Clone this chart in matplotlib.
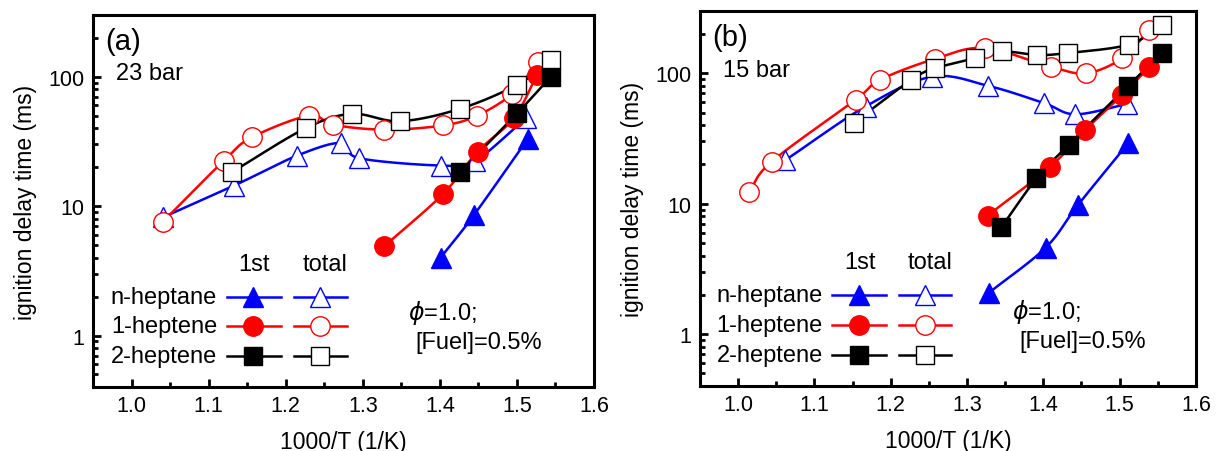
import numpy as np
import matplotlib
matplotlib.use("Agg")
import matplotlib.pyplot as plt
from matplotlib.ticker import LogLocator, FixedLocator, NullFormatter, FuncFormatter, MultipleLocator

plt.rcParams['font.family'] = ['Liberation Sans', 'DejaVu Sans']

# ---- 23 bar ----
a_nhep_1st_x = [1.401, 1.444, 1.514]
a_nhep_1st_y = [4.0, 8.5, 33.0]
a_nhep_tot_x = [1.041, 1.133, 1.215, 1.272, 1.295, 1.401, 1.446, 1.512]
a_nhep_tot_y = [8.2, 14.4, 24.6, 30.8, 23.5, 20.6, 22.5, 48.0]
a_1hep_1st_x = [1.328, 1.404, 1.449, 1.496, 1.526]
a_1hep_1st_y = [4.9, 12.4, 26.4, 48.0, 103.0]
a_1hep_tot_x = [1.041, 1.120, 1.156, 1.230, 1.262, 1.328, 1.404, 1.448, 1.494, 1.527]
a_1hep_tot_y = [7.6, 22.5, 34.0, 50.0, 42.5, 39.0, 42.0, 50.0, 74.0, 131.0]
a_2hep_1st_x = [1.426, 1.500, 1.544]
a_2hep_1st_y = [18.3, 52.0, 100.0]
a_2hep_tot_x = [1.130, 1.226, 1.286, 1.348, 1.426, 1.500, 1.544]
a_2hep_tot_y = [18.3, 40.0, 51.6, 45.3, 56.5, 86.5, 134.0]

# ---- 15 bar ----
b_nhep_1st_x = [1.329, 1.403, 1.445, 1.511]
b_nhep_1st_y = [2.08, 4.6, 9.7, 29.0]
b_nhep_tot_x = [1.062, 1.167, 1.254, 1.328, 1.401, 1.442, 1.510]
b_nhep_tot_y = [21.6, 55.6, 94.0, 80.0, 59.0, 48.5, 58.0]
b_1hep_1st_x = [1.327, 1.409, 1.455, 1.503, 1.539]
b_1hep_1st_y = [8.1, 19.2, 36.8, 68.0, 112.0]
b_1hep_tot_x = [1.014, 1.044, 1.154, 1.186, 1.258, 1.323, 1.410, 1.456, 1.503, 1.539]
b_1hep_tot_y = [12.2, 21.0, 62.7, 89.0, 129.0, 156.0, 112.0, 100.0, 130.0, 216.0]
b_2hep_1st_x = [1.345, 1.391, 1.433, 1.511, 1.556]
b_2hep_1st_y = [6.6, 15.6, 28.2, 80.0, 143.0]
b_2hep_tot_x = [1.152, 1.227, 1.258, 1.310, 1.346, 1.392, 1.432, 1.512, 1.556]
b_2hep_tot_y = [41.9, 89.0, 109.0, 130.0, 147.0, 138.0, 143.0, 166.0, 236.0]

fuels = ['n-heptane', '1-heptene', '2-heptene']
colors = ['#0000ff', '#ff0000', '#000000']
markers = ['^', 'o', 's']
msize = {'^': 15, 'o': 14, 's': 12.5}


def smooth(x, y, n=20):
    # catmull-rom through the points, done in log(y)
    x = np.asarray(x, float)
    ly = np.log10(np.asarray(y, float))
    if len(x) < 3:
        return x, 10 ** ly
    px = np.concatenate([[2 * x[0] - x[1]], x, [2 * x[-1] - x[-2]]])
    py = np.concatenate([[2 * ly[0] - ly[1]], ly, [2 * ly[-1] - ly[-2]]])
    xs, ys = [], []
    t = np.linspace(0, 1, n)
    for i in range(1, len(px) - 2):
        p0, p1, p2, p3 = px[i - 1], px[i], px[i + 1], px[i + 2]
        q0, q1, q2, q3 = py[i - 1], py[i], py[i + 1], py[i + 2]
        xs.append(0.5 * (2 * p1 + (-p0 + p2) * t + (2 * p0 - 5 * p1 + 4 * p2 - p3) * t ** 2
                         + (-p0 + 3 * p1 - 3 * p2 + p3) * t ** 3))
        ys.append(0.5 * (2 * q1 + (-q0 + q2) * t + (2 * q0 - 5 * q1 + 4 * q2 - q3) * t ** 2
                         + (-q0 + 3 * q1 - 3 * q2 + q3) * t ** 3))
    return np.concatenate(xs), 10 ** np.concatenate(ys)


def series(ax, x, y, c, m, filled):
    sx, sy = smooth(x, y)
    ax.plot(sx, sy, color=c, lw=1.8, zorder=2)
    ax.plot(x, y, ls='none', marker=m, ms=msize[m],
            mfc=c if filled else 'white', mec=c, mew=1.0, zorder=3)


def panel(ax, data, tag, pres):
    for (x1, y1, x2, y2), c, m in zip(data, colors, markers):
        series(ax, x2, y2, c, m, False)
        series(ax, x1, y1, c, m, True)

    ax.set_yscale('log')
    ax.set_xlim(0.95, 1.6)
    ax.set_ylim(0.4, 300)
    ax.xaxis.set_major_locator(MultipleLocator(0.1))
    ax.xaxis.set_minor_locator(MultipleLocator(0.05))
    ax.xaxis.set_major_formatter(FuncFormatter(lambda v, p: f'{v:.1f}'))
    ax.yaxis.set_major_locator(FixedLocator([1, 10, 100]))
    ax.yaxis.set_major_formatter(FuncFormatter(lambda v, p: f'{v:g}'))
    ax.yaxis.set_minor_locator(LogLocator(base=10, subs=np.arange(2, 10)))
    ax.yaxis.set_minor_formatter(NullFormatter())
    ax.tick_params(which='both', direction='in', top=False, right=False, width=2)
    ax.tick_params(which='major', length=6, labelsize=15.5, pad=6)
    ax.tick_params(which='minor', length=3.5)
    for s in ax.spines.values():
        s.set_linewidth(2.2)
    ax.set_xlabel('1000/T (1/K)', fontsize=16.5)
    ax.set_ylabel('ignition delay time (ms)', fontsize=16.5)
    ax.xaxis.set_label_coords(0.5, -0.115)
    ax.yaxis.set_label_coords(-0.112, 0.5)

    tr = ax.transAxes
    ax.text(0.024, 0.93, tag, transform=tr, fontsize=21, va='center')
    ax.text(0.046, 0.844, pres, transform=tr, fontsize=17, va='center')

    # hand-made legend: 1st (filled) and total (open) per fuel
    ax.text(0.322, 0.331, '1st', transform=tr, fontsize=17, ha='center', va='center')
    ax.text(0.463, 0.331, 'total', transform=tr, fontsize=17, ha='center', va='center')
    for f, c, m, yy in zip(fuels, colors, markers, [0.242, 0.164, 0.083]):
        ax.text(0.2475, yy, f, transform=tr, fontsize=17, ha='right', va='center')
        for x0, x1, xm, filled in [(0.267, 0.375, 0.32, True), (0.401, 0.507, 0.453, False)]:
            ax.plot([x0, x1], [yy, yy], color=c, lw=1.8, transform=tr, clip_on=False)
            ax.plot([xm], [yy], marker=m, ms=msize[m], color=c,
                    mfc=c if filled else 'white', mec=c, mew=1.0, transform=tr, clip_on=False)

    ax.text(0.629, 0.201, r'$\phi$=1.0;', transform=tr, fontsize=17, va='center')
    ax.text(0.643, 0.121, '[Fuel]=0.5%', transform=tr, fontsize=17, va='center')


fig = plt.figure(figsize=(12.19, 4.52), dpi=100)
ax1 = fig.add_axes([0.0763, 0.1416, 0.411, 0.823])
ax2 = fig.add_axes([0.5742, 0.1438, 0.4069, 0.8296])

panel(ax1, [(a_nhep_1st_x, a_nhep_1st_y, a_nhep_tot_x, a_nhep_tot_y),
            (a_1hep_1st_x, a_1hep_1st_y, a_1hep_tot_x, a_1hep_tot_y),
            (a_2hep_1st_x, a_2hep_1st_y, a_2hep_tot_x, a_2hep_tot_y)], '(a)', '23 bar')
panel(ax2, [(b_nhep_1st_x, b_nhep_1st_y, b_nhep_tot_x, b_nhep_tot_y),
            (b_1hep_1st_x, b_1hep_1st_y, b_1hep_tot_x, b_1hep_tot_y),
            (b_2hep_1st_x, b_2hep_1st_y, b_2hep_tot_x, b_2hep_tot_y)], '(b)', '15 bar')

fig.savefig('out.png', dpi=100)
